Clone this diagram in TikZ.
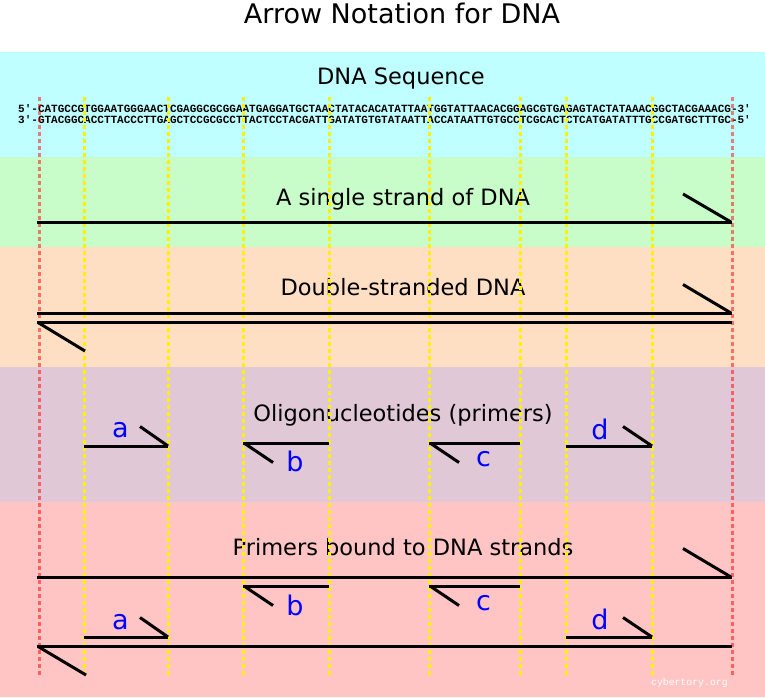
\documentclass[tikz,border=0pt]{standalone}
\usepackage{fontspec}
\setmainfont{DejaVu Sans}
\setmonofont{Liberation Mono}
\definecolor{cyanband}{RGB}{192,255,255}
\definecolor{greenband}{RGB}{200,252,200}
\definecolor{peachband}{RGB}{255,223,196}
\definecolor{mauveband}{RGB}{224,200,214}
\definecolor{pinkband}{RGB}{255,196,196}
\definecolor{labelblue}{RGB}{0,0,255}
\begin{document}
\begin{tikzpicture}[x=1pt,y=-1pt,
  band/.style={draw=none},
  heading/.style={anchor=base,inner sep=0pt,font=\fontsize{22.5}{27}\selectfont},
  seqtext/.style={anchor=base west,inner sep=0pt,font=\ttfamily\bfseries\fontsize{11}{11}\selectfont},
  guidey/.style={draw=yellow,line width=3pt,dash pattern=on 4pt off 3pt},
  guider/.style={draw=red,draw opacity=0.5,line width=3pt,dash pattern=on 4pt off 3pt},
  strand/.style={draw=black,line width=3pt,line cap=butt},
  lbl/.style={anchor=base,inner sep=0pt,text=labelblue,font=\fontsize{27}{30}\selectfont}]
\useasboundingbox (0,0) rectangle (765,697);
% bands
\fill[white] (0,0) rectangle (765,52);
\fill[band,cyanband] (0,52) rectangle (765,157);
\fill[band,greenband] (0,157) rectangle (765,247);
\fill[band,peachband] (0,247) rectangle (765,367);
\fill[band,mauveband] (0,367) rectangle (765,502);
\fill[band,pinkband] (0,502) rectangle (765,697);
% texts
\node[anchor=base,inner sep=0pt,font=\fontsize{27}{32}\selectfont] (title) at (402,23) {Arrow Notation for DNA};
\node[heading] (hseq) at (401,84) {DNA Sequence};
\node[heading] (hsingle) at (403,205) {A single strand of DNA};
\node[heading] (hdouble) at (403,295) {Double-stranded DNA};
\node[heading] (holigo) at (403,421) {Oligonucleotides (primers)};
\node[heading] (hbound) at (403,555) {Primers bound to DNA strands};
\node[seqtext] (seqtop) at (18,112.5) {5'-CATGCCGTGGAATGGGAACTCGAGGCGCGGAATGAGGATGCTAACTATACACATATTAATGGTATTAACACGGAGCGTGAGAGTACTATAAACGGCTACGAAACG-3'};
\node[seqtext] (seqbot) at (18,123.5) {3'-GTACGGCACCTTACCCTTGAGCTCCGCGCCTTACTCCTACGATTGATATGTGTATAATTACCATAATTGTGCCTCGCACTCTCATGATATTTGCCGATGCTTTGC-5'};
\node[anchor=base west,inner sep=0pt,text=white,font=\ttfamily\fontsize{9.8}{10}\selectfont] (credit) at (651,685) {cybertory.org};
% guide lines
\foreach \gx in {84,168.5,243,329,429,520.5,566,652}
  \draw[guidey] (\gx,97) -- (\gx,675);
\foreach \gx in {39,732}
  \draw[guider] (\gx,97) -- (\gx,675);
% single strand
\draw[strand] (37,222) -- (732,222);
\draw[strand] (683,194) -- (731,222);
% double strand
\draw[strand] (37,313) -- (732,313);
\draw[strand] (683,284.5) -- (731,313);
\draw[strand] (37,322.5) -- (732,322.5);
\draw[strand] (38,322.5) -- (85,351);
% oligonucleotides
\draw[strand] (84,446) -- (168,446);
\draw[strand] (140,426.5) -- (168,446);
\draw[strand] (243,443) -- (329,443);
\draw[strand] (244,443) -- (273,462.5);
\draw[strand] (429,443) -- (520,443);
\draw[strand] (430,443) -- (459,462.5);
\draw[strand] (566,446) -- (652,446);
\draw[strand] (623,426.5) -- (652,446);
\node[lbl] (la) at (120.5,437) {a};
\node[lbl] (lb) at (295,471.5) {b};
\node[lbl] (lc) at (483.5,466.5) {c};
\node[lbl] (ld) at (600,439) {d};
% primers bound
\draw[strand] (37,577) -- (732,577);
\draw[strand] (683,548.5) -- (731,577);
\draw[strand] (243,586) -- (329,586);
\draw[strand] (244,586) -- (273,605.5);
\draw[strand] (429,586) -- (520,586);
\draw[strand] (430,586) -- (459,605.5);
\draw[strand] (84,637) -- (168,637);
\draw[strand] (140,617.5) -- (168,637);
\draw[strand] (566,637) -- (652,637);
\draw[strand] (623,617.5) -- (652,637);
\draw[strand] (37,646.5) -- (732,646.5);
\draw[strand] (38,646.5) -- (86,675);
\node[lbl] (ba) at (120.5,629) {a};
\node[lbl] (bb) at (295,615) {b};
\node[lbl] (bc) at (483.5,610) {c};
\node[lbl] (bd) at (600,629) {d};
\end{tikzpicture}
\end{document}
